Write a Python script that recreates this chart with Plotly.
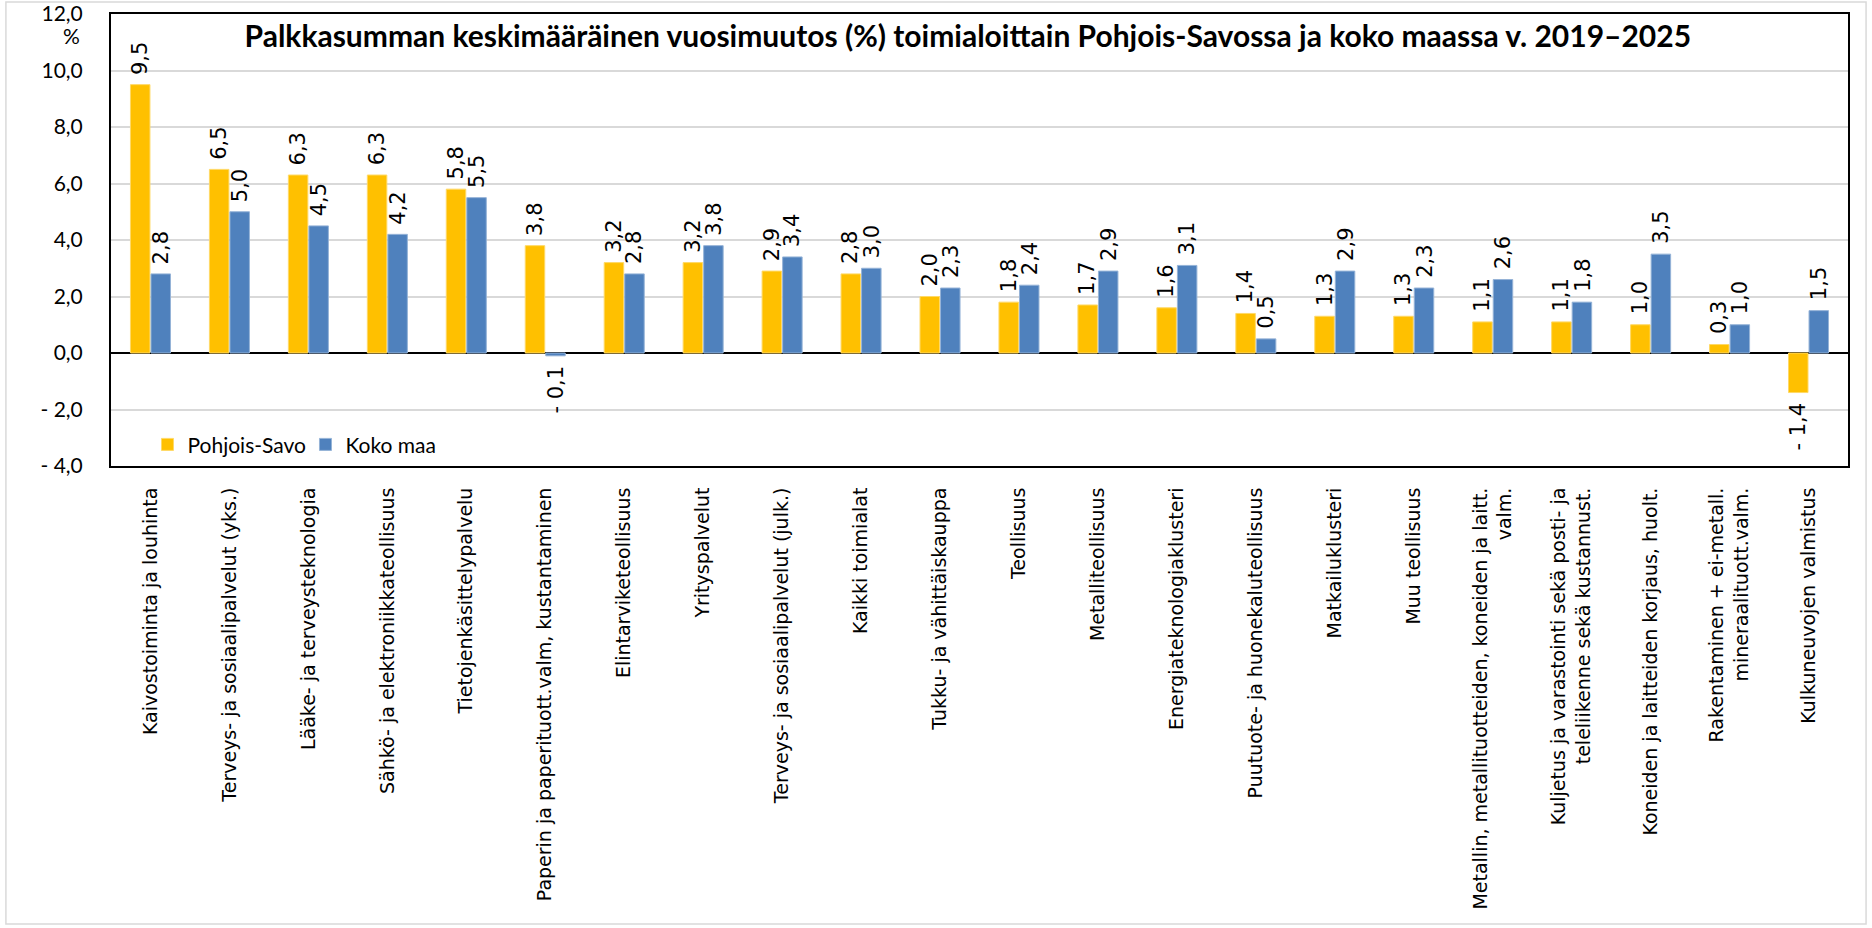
import plotly.graph_objects as go

# Toimialat (categories), in display order
categories = [
    "Kaivostoiminta ja louhinta",
    "Terveys- ja sosiaalipalvelut (yks.)",
    "Lääke- ja terveysteknologia",
    "Sähkö- ja elektroniikkateollisuus",
    "Tietojenkäsittelypalvelu",
    "Paperin ja paperituott.valm, kustantaminen",
    "Elintarviketeollisuus",
    "Yrityspalvelut",
    "Terveys- ja sosiaalipalvelut (julk.)",
    "Kaikki toimialat",
    "Tukku- ja vähittäiskauppa",
    "Teollisuus",
    "Metalliteollisuus",
    "Energiateknologiaklusteri",
    "Puutuote- ja huonekaluteollisuus",
    "Matkailuklusteri",
    "Muu teollisuus",
    "Metallin, metallituotteiden, koneiden ja laitt.<br>valm.",
    "Kuljetus ja varastointi sekä posti- ja<br>teleliikenne sekä kustannust.",
    "Koneiden ja laitteiden korjaus, huolt.",
    "Rakentaminen + ei-metall.<br>mineraalituott.valm.",
    "Kulkuneuvojen valmistus",
]

pohjois_savo = [9.5, 6.5, 6.3, 6.3, 5.8, 3.8, 3.2, 3.2, 2.9, 2.8, 2.0,
                1.8, 1.7, 1.6, 1.4, 1.3, 1.3, 1.1, 1.1, 1.0, 0.3, -1.4]
koko_maa = [2.8, 5.0, 4.5, 4.2, 5.5, -0.1, 2.8, 3.8, 3.4, 3.0, 2.3,
            2.4, 2.9, 3.1, 0.5, 2.9, 2.3, 2.6, 1.8, 3.5, 1.0, 1.5]

y_tick_values = [12, 10, 8, 6, 4, 2, 0, -2, -4]
y_tick_labels = ["12,0", "10,0", "8,0", "6,0", "4,0", "2,0", "0,0", "- 2,0", "- 4,0"]

series = [
    ("Pohjois-Savo", pohjois_savo, "#FFC000", "#FFD966", -10.5),
    ("Koko maa", koko_maa, "#4F81BD", "#95B3D7", 10.5),
]


def fi_number(v):
    """Finnish style value label: decimal comma, '- ' for negatives."""
    s = f"{abs(v):.1f}".replace(".", ",")
    return f"- {s}" if v < 0 else s


fig = go.Figure()
annotations = []
for name, values, color, edge, shift in series:
    fig.add_trace(go.Bar(
        name=name,
        x=categories,
        y=values,
        marker=dict(color=color, line=dict(color=edge, width=1)),
        hoverinfo="x+y",
    ))
    for cat, v in zip(categories, values):
        annotations.append(dict(
            x=cat, y=v, xref="x", yref="y",
            text=fi_number(v), showarrow=False, textangle=-90,
            xanchor="center", yanchor="bottom" if v >= 0 else "top",
            xshift=shift, yshift=8 if v >= 0 else -8,
            font=dict(family="DejaVu Sans", size=21, color="#000000"),
        ))

# "%" unit marker below the top tick label
annotations.append(dict(
    x=-0.0225, y=0.952, xref="paper", yref="paper", text="%",
    showarrow=False, xanchor="center", yanchor="middle",
    font=dict(family="Lato", size=21, color="#000000"),
))

fig.update_layout(
    width=1872, height=928,
    margin=dict(l=111, r=24, t=14, b=462, pad=0),
    paper_bgcolor="#FFFFFF", plot_bgcolor="#FFFFFF",
    barmode="group", bargap=0.48, bargroupgap=0.05,
    title=dict(
        text="<b>Palkkasumman keskimääräinen vuosimuutos (%) toimialoittain "
             "Pohjois-Savossa ja koko maassa v. 2019–2025</b>",
        x=0.517, xanchor="center", y=1 - 36 / 928, yanchor="middle",
        font=dict(family="Lato", size=30, color="#000000"),
    ),
    legend=dict(
        orientation="h", x=0.021, y=0.047, xanchor="left", yanchor="middle",
        bgcolor="rgba(0,0,0,0)", font=dict(family="Lato", size=21, color="#000000"),
        traceorder="normal", entrywidth=113, entrywidthmode="pixels",
    ),
    annotations=annotations,
    shapes=[dict(
        type="rect", xref="paper", yref="paper",
        x0=-0.0605, x1=1.0104, y0=-1.0133, y1=1.0265,
        line=dict(color="#D9D9D9", width=1.5), fillcolor="rgba(0,0,0,0)", layer="below",
    )],
    showlegend=True,
)

fig.update_xaxes(
    type="category", categoryorder="array", categoryarray=categories,
    tickangle=-90, ticks="", showline=True, mirror=True,
    linecolor="#000000", linewidth=2, showgrid=False, automargin=False,
    tickfont=dict(family="DejaVu Sans", size=19, color="#000000"),
    ticklabelstandoff=12,
)
fig.update_yaxes(
    range=[-4, 12], tickvals=y_tick_values, ticktext=y_tick_labels,
    showgrid=True, gridcolor="#D9D9D9", gridwidth=2,
    zeroline=True, zerolinecolor="#000000", zerolinewidth=2,
    showline=True, mirror=True, linecolor="#000000", linewidth=2,
    ticks="", ticklabelstandoff=22, automargin=False,
    tickfont=dict(family="Lato", size=21, color="#000000"),
)

fig.write_html("out.html")
